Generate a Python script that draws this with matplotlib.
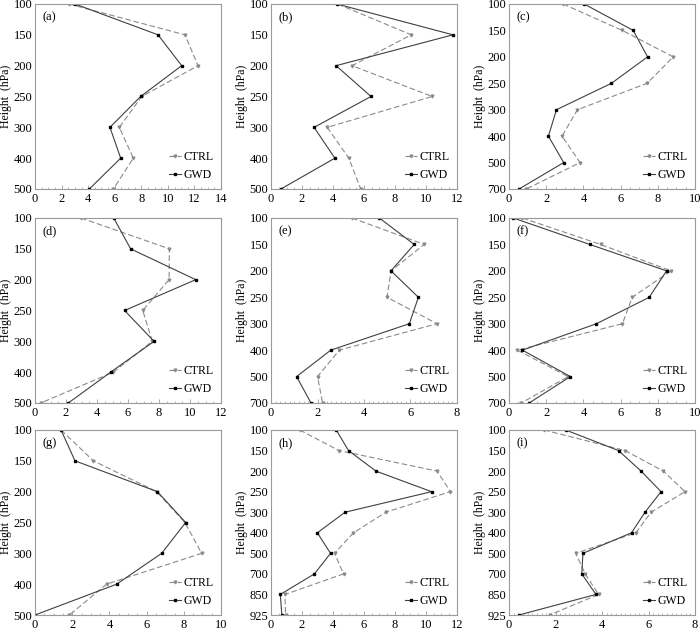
import matplotlib
matplotlib.use("Agg")
import matplotlib.pyplot as plt
from matplotlib.ticker import MultipleLocator

plt.rcParams['font.family'] = ['Liberation Serif', 'DejaVu Serif']

levels7 = ["100", "150", "200", "250", "300", "400", "500"]
levels8 = ["100", "150", "200", "250", "300", "400", "500", "700"]
levels10 = ["100", "150", "200", "250", "300", "400", "500", "700", "850", "925"]

ctrl_a = [2.56, 11.29, 12.27, 8.03, 6.35, 7.4, 5.9]
gwd_a = [3.01, 9.26, 11.04, 7.95, 5.64, 6.45, 4.09]
ctrl_b = [4.3, 9.05, 5.23, 10.4, 3.63, 5.02, 5.79]
gwd_b = [4.25, 11.74, 4.2, 6.45, 2.78, 4.12, 0.64]
ctrl_c = [2.91, 6.09, 8.83, 7.43, 3.68, 2.85, 3.82, 0.93]
gwd_c = [4.04, 6.68, 7.45, 5.51, 2.55, 2.12, 2.94, 0.54]
ctrl_d = [2.97, 8.67, 8.65, 6.95, 7.57, 5.05, 0.37]
gwd_d = [5.08, 6.17, 10.37, 5.78, 7.68, 4.88, 2.15]
ctrl_e = [3.48, 6.59, 5.16, 4.99, 7.14, 2.94, 2.0, 2.22]
gwd_e = [4.66, 6.16, 5.16, 6.34, 5.95, 2.57, 1.1, 1.72]
ctrl_f = [0.72, 4.92, 8.71, 6.62, 6.1, 0.45, 3.18, 0.66]
gwd_f = [0.23, 4.34, 8.47, 7.54, 4.7, 0.72, 3.3, 1.08]
ctrl_g = [1.4, 3.14, 6.54, 8.06, 8.96, 3.85, 1.85]
gwd_g = [1.4, 2.15, 6.58, 8.1, 6.81, 4.39, 0.0]
ctrl_h = [1.86, 4.38, 10.72, 11.57, 7.41, 5.32, 4.1, 4.68, 0.9, 0.94]
gwd_h = [4.21, 5.0, 6.77, 10.36, 4.78, 2.99, 3.84, 2.8, 0.6, 0.7]
ctrl_i = [1.51, 4.99, 6.64, 7.57, 6.11, 5.46, 2.87, 3.28, 3.85, 1.75]
gwd_i = [2.44, 4.71, 5.68, 6.54, 5.85, 5.27, 3.18, 3.13, 3.74, 0.43]

panel_labels = ["(a)", "(b)", "(c)", "(d)", "(e)", "(f)", "(g)", "(h)", "(i)"]
panel_levels = [levels7, levels7, levels8, levels7, levels8, levels8, levels7, levels10, levels10]
panel_ctrl = [ctrl_a, ctrl_b, ctrl_c, ctrl_d, ctrl_e, ctrl_f, ctrl_g, ctrl_h, ctrl_i]
panel_gwd = [gwd_a, gwd_b, gwd_c, gwd_d, gwd_e, gwd_f, gwd_g, gwd_h, gwd_i]
panel_xmax = [14, 12, 10, 12, 8, 10, 10, 12, 8]

fig = plt.figure(figsize=(7.0, 6.31), dpi=100)
lefts = [35 / 700, 271 / 700, 509 / 700]
tops = [4, 218, 430]
w = 186 / 700
h = 185 / 631

spine_c = "#9a9a9a"
for k in range(9):
    r, c = divmod(k, 3)
    ax = fig.add_axes([lefts[c], 1 - (tops[r] + 185) / 631, w, h])
    lv = panel_levels[k]
    y = list(range(len(lv)))
    ax.plot(panel_ctrl[k], y, color="#8a8a8a", ls=(0, (5, 2.5)), lw=0.8,
            marker="v", ms=2.0, label="CTRL")
    ax.plot(panel_gwd[k], y, color="#404040", ls="-", lw=0.8,
            marker="s", ms=1.8, mfc="black", mec="black", label="GWD")
    ax.set_ylim(len(lv) - 1, 0)
    ax.set_yticks(y)
    ax.set_yticklabels(lv)
    ax.set_xlim(0, panel_xmax[k])
    ax.xaxis.set_major_locator(MultipleLocator(2))
    ax.xaxis.set_minor_locator(MultipleLocator(0.2 if panel_xmax[k] == 8 else 0.5))
    ax.tick_params(axis="x", which="major", direction="in", length=3, width=0.6,
                   color=spine_c, labelsize=9, pad=3)
    ax.tick_params(axis="x", which="minor", direction="in", length=1.8, width=0.5,
                   color=spine_c)
    ax.tick_params(axis="y", length=0, labelsize=9, pad=2)
    for s in ax.spines.values():
        s.set_color(spine_c)
        s.set_linewidth(0.8)
    ax.set_ylabel("Height  (hPa)", fontsize=8.5, labelpad=1)
    ax.text(0.04, 0.96, panel_labels[k], transform=ax.transAxes, fontsize=9,
            va="top", ha="left")
    ax.legend(loc="lower right", frameon=False, fontsize=8.5, handlelength=1.0,
              handletextpad=0.2, labelspacing=0.5, borderaxespad=0.25,
              markerscale=1.0)

fig.savefig("out.png", dpi=100)
